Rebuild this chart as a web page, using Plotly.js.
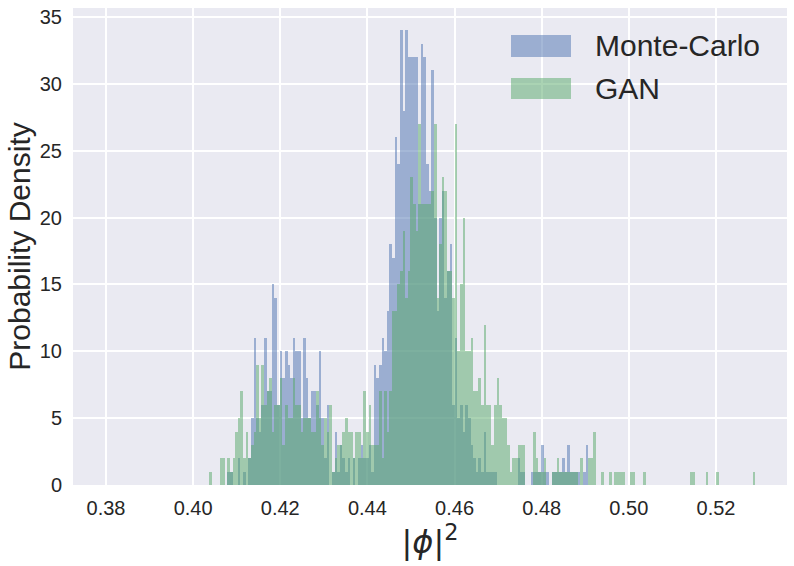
<!DOCTYPE html>
<html>
<head>
<meta charset="utf-8">
<script src="https://cdn.plot.ly/plotly-3.0.1.min.js"></script>
<style>html,body{margin:0;padding:0;background:#fff;}#chart{width:794px;height:566px;}</style>
</head>
<body>
<div id="chart"></div>
<script>
// Histogram bins shared by both series
const binStart = 0.40366;
const binWidth = 0.0006;

// Probability density per bin (Monte-Carlo)
const monteCarlo = [
  0,0,0,0,0,0,0,1,1,0,
  0,2,0,1,0,2,5,11,5,4,
  6,11,7,7,15,14,6,10,8,10,
  9,8,11,10,10,5,11,8,5,7,
  7,6,10,5,2,6,0,1,4,1,
  3,2,1,2,0,2,0,2,3,2,
  2,3,1,9,8,9,11,10,13,18,
  17,26,24,34,28,34,32,32,32,32,
  21,33,32,24,22,31,20,13,20,22,
  14,16,18,6,11,5,6,4,6,5,
  3,2,1,2,1,4,1,1,1,1,
  0,0,0,0,0,0,0,0,2,1,
  1,0,0,1,1,1,1,3,1,1,
  0,1,1,1,1,2,1,3,1,1,
  1,1,0,1,3,0,0,0,0,0
];

// Probability density per bin (GAN)
const gan = [
  1,0,0,0,2,2,0,2,1,2,
  4,5,7,2,4,2,3,4,9,5,
  9,6,7,8,4,6,6,8,3,6,
  5,5,8,6,6,4,5,5,5,4,
  4,7,5,3,5,4,6,1,2,3,
  3,4,5,4,4,2,4,4,2,7,
  4,6,3,3,3,7,2,7,4,7,
  13,13,15,16,19,14,16,23,21,19,
  27,21,21,21,21,22,27,14,18,23,
  22,16,16,14,27,10,15,20,10,10,
  11,7,7,8,6,12,6,6,3,6,
  8,6,5,5,3,1,2,2,3,3,
  3,0,0,0,4,2,1,1,2,0,
  0,1,1,2,1,1,1,1,1,1,
  1,0,2,0,0,2,2,4,0,0,
  1,0,0,1,0,1,1,1,1,0,
  0,1,1,0,0,0,1,0,0,0,
  0,0,0,0,0,0,0,0,0,0,
  0,0,0,0,1,1,0,0,0,0,
  1,0,0,0,1,0,0,0,0,0,
  0,0,0,0,0,0,0,0,1,0
];

const seriesNames = ["Monte-Carlo", "GAN"];
const xTicks = [0.38, 0.40, 0.42, 0.44, 0.46, 0.48, 0.50, 0.52];
const yTicks = [0, 5, 10, 15, 20, 25, 30, 35];

const blueFill = "rgba(76,114,176,0.5)";
const greenFill = "rgba(85,168,104,0.5)";

function centers(arr) { return arr.map((_, i) => binStart + (i + 0.5) * binWidth); }

const traces = [
  {type: "bar", name: seriesNames[0], x: centers(monteCarlo), y: monteCarlo, width: binWidth,
   marker: {color: blueFill, line: {width: 0}}, showlegend: false, hoverinfo: "skip"},
  {type: "bar", name: seriesNames[1], x: centers(gan), y: gan, width: binWidth,
   marker: {color: greenFill, line: {width: 0}}, showlegend: false, hoverinfo: "skip"}
];

const L = 73, R = 787, T = 8, B = 485;
const pw = R - L, ph = B - T;
const px = v => (v - L) / pw;
const py = v => (B - v) / ph;

const layout = {
  width: 794, height: 566,
  margin: {l: L, r: 794 - R, t: T, b: 566 - B},
  paper_bgcolor: "#ffffff",
  plot_bgcolor: "#EAEAF2",
  barmode: "overlay",
  bargap: 0,
  font: {family: "Liberation Sans, Arial, sans-serif", color: "#262626"},
  xaxis: {
    range: [0.37243, 0.5363],
    tickvals: xTicks, ticktext: xTicks.map(v => v.toFixed(2)),
    showgrid: true, gridcolor: "#ffffff", gridwidth: 2,
    zeroline: false, showline: false, ticks: "",
    ticklabelstandoff: 9,
    tickfont: {size: 20, color: "#262626"},
    title: {text: "|<i>ϕ</i>|<sup>2</sup>", font: {size: 32, color: "#262626", family: "DejaVu Sans, sans-serif"}, standoff: 1}
  },
  yaxis: {
    range: [0, 35.67],
    tickvals: yTicks, ticktext: yTicks.map(String),
    showgrid: true, gridcolor: "#ffffff", gridwidth: 2,
    zeroline: false, showline: false, ticks: "",
    ticklabelstandoff: 10,
    tickfont: {size: 20, color: "#262626"},
    title: {text: "Probability Density", font: {size: 30, color: "#262626"}, standoff: 0}
  },
  shapes: [
    {type: "rect", xref: "paper", yref: "paper", x0: px(511), x1: px(571), y0: py(57), y1: py(35),
     fillcolor: blueFill, line: {width: 0}},
    {type: "rect", xref: "paper", yref: "paper", x0: px(511), x1: px(571), y0: py(99), y1: py(78),
     fillcolor: greenFill, line: {width: 0}}
  ],
  annotations: [
    {xref: "paper", yref: "paper", x: px(593), y: py(46), xanchor: "left", yanchor: "middle",
     text: seriesNames[0], showarrow: false, font: {size: 30, color: "#262626"}},
    {xref: "paper", yref: "paper", x: px(593), y: py(89), xanchor: "left", yanchor: "middle",
     text: seriesNames[1], showarrow: false, font: {size: 30, color: "#262626"}}
  ]
};

Plotly.newPlot("chart", traces, layout, {staticPlot: true, displayModeBar: false});
</script>
</body>
</html>
